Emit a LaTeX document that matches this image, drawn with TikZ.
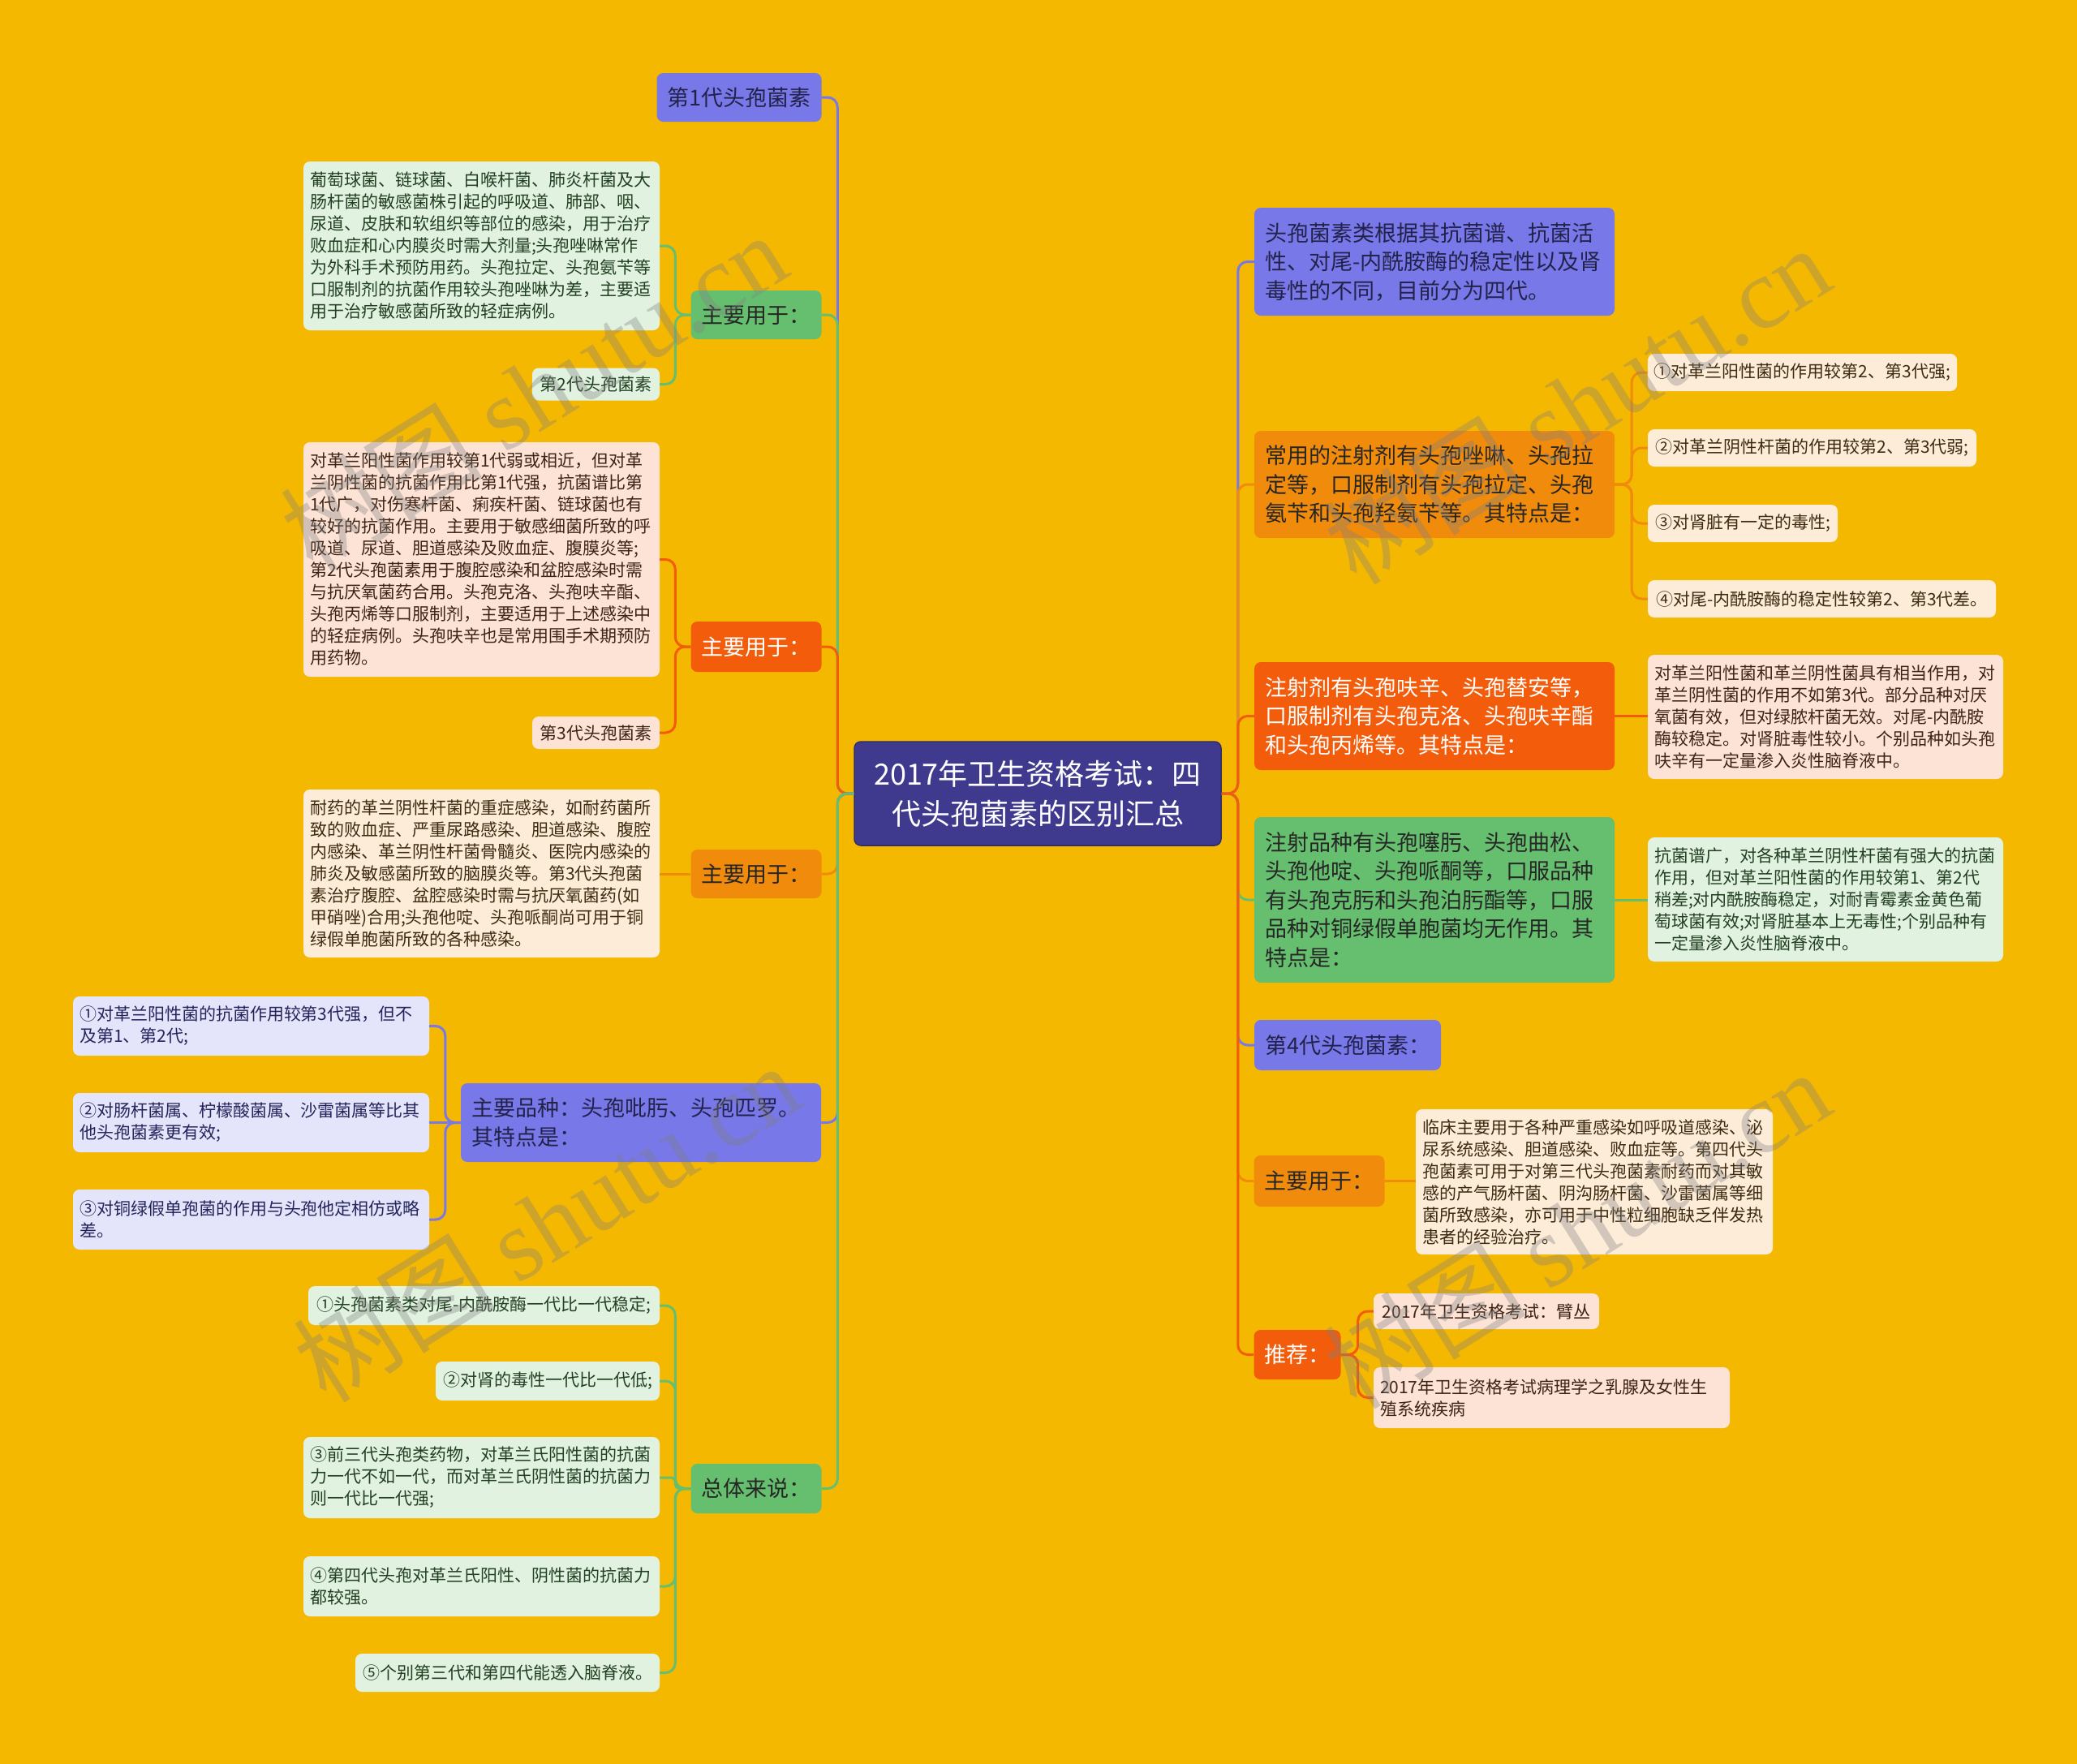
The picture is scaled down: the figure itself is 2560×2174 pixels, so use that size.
\documentclass[tikz,border=0pt]{standalone}
\usepackage{fontspec}
\setmainfont{Noto Sans CJK SC}
\newfontfamily\wmfont{Liberation Serif}
\definecolor{bg}{HTML}{F5B800}
\definecolor{cRoot}{HTML}{3F3A8E}
\definecolor{cPur}{HTML}{7878E8}
\definecolor{cGrn}{HTML}{66BF6E}
\definecolor{cRed}{HTML}{F25C0A}
\definecolor{cOrg}{HTML}{F08B0C}
\definecolor{lGrn}{HTML}{E2F2E0}
\definecolor{lPch}{HTML}{FDE3D5}
\definecolor{lCrm}{HTML}{FDECD8}
\definecolor{lLav}{HTML}{E4E4FA}
\definecolor{tDark}{HTML}{262626}
\definecolor{tPur}{HTML}{22224A}
\definecolor{tG}{HTML}{213F21}
\definecolor{tP}{HTML}{3D2314}
\definecolor{tC}{HTML}{3D2A10}
\definecolor{tL}{HTML}{24245C}
\tikzset{
  one/.style={rounded corners=8pt, inner xsep=13pt, inner ysep=4pt, font=\fontsize{27}{35.5}\selectfont},
  onesingle/.style={one, align=center},
  onemulti/.style={one, align=left, text width=418pt},
  lf/.style={rounded corners=8pt, inner xsep=8pt, inner ysep=4pt, font=\fontsize{21}{27}\selectfont},
  lfsingle/.style={lf, align=center},
  lfmulti/.style={lf, align=left},
  fPur/.style={fill=cPur, text=tPur},
  fGrn/.style={fill=cGrn, text=tDark},
  fRed/.style={fill=cRed, text=white},
  fOrg/.style={fill=cOrg, text=tDark},
  gLeaf/.style={fill=lGrn, text=tG},
  pLeaf/.style={fill=lPch, text=tP},
  cLeaf/.style={fill=lCrm, text=tC},
  vLeaf/.style={fill=lLav, text=tL},
  link/.style={line width=3pt, rounded corners=12pt},
  wmark/.style={rotate=32, text=gray, opacity=0.35, font=\fontsize{125}{130}\selectfont}
}
\begin{document}
\begin{tikzpicture}[x=1pt,y=-1pt]
\useasboundingbox (0,0) rectangle (2560,2174);
\fill[bg] (0,0) rectangle (2560,2174);

% root
\node[fill=cRoot, draw=cRoot!75!black, line width=1.5pt, text=white, rounded corners=8pt, align=center,
  minimum width=452pt, minimum height=128pt, font=\fontsize{36}{49}\selectfont] (root) at (1279,978)
  {2017年卫生资格考试：四\\代头孢菌素的区别汇总};

% ---------- left level 1 ----------
\node[onesingle, fPur, minimum width=202pt, minimum height=60pt] (g1) at (911,120) {第1代头孢菌素};
\node[onesingle, fGrn, minimum width=160pt, minimum height=60pt] (u1) at (932,388) {主要用于：};
\node[onesingle, fRed, minimum width=160pt, minimum height=62pt] (u2) at (932,797) {主要用于：};
\node[onesingle, fOrg, minimum width=160pt, minimum height=60pt] (u3) at (932,1077) {主要用于：};
\node[onemulti, fPur, minimum height=97pt] (p1) at (790,1383.5) {主要品种：头孢吡肟、头孢匹罗。\\其特点是：};
\node[onesingle, fGrn, minimum width=160pt, minimum height=61pt] (t1) at (932,1834.5) {总体来说：};

% ---------- left leaves ----------
\node[lfmulti, gLeaf, text width=423pt, minimum height=208pt] (lg1) at (593.5,303)
 {葡萄球菌、链球菌、白喉杆菌、肺炎杆菌及大\\肠杆菌的敏感菌株引起的呼吸道、肺部、咽、\\尿道、皮肤和软组织等部位的感染，用于治疗\\败血症和心内膜炎时需大剂量;头孢唑啉常作\\为外科手术预防用药。头孢拉定、头孢氨苄等\\口服制剂的抗菌作用较头孢唑啉为差，主要适\\用于治疗敏感菌所致的轻症病例。};
\node[lfsingle, gLeaf, minimum width=157pt, minimum height=40pt] (lg2) at (734.5,473.5) {第2代头孢菌素};

\node[lfmulti, pLeaf, text width=423pt, minimum height=289pt] (lr1) at (593.5,689.5)
 {对革兰阳性菌作用较第1代弱或相近，但对革\\兰阴性菌的抗菌作用比第1代强，抗菌谱比第\\1代广，对伤寒杆菌、痢疾杆菌、链球菌也有\\较好的抗菌作用。主要用于敏感细菌所致的呼\\吸道、尿道、胆道感染及败血症、腹膜炎等;\\第2代头孢菌素用于腹腔感染和盆腔感染时需\\与抗厌氧菌药合用。头孢克洛、头孢呋辛酯、\\头孢丙烯等口服制剂，主要适用于上述感染中\\的轻症病例。头孢呋辛也是常用围手术期预防\\用药物。};
\node[lfsingle, pLeaf, minimum width=157pt, minimum height=40pt] (lr2) at (734.5,903) {第3代头孢菌素};

\node[lfmulti, cLeaf, text width=423pt, minimum height=207pt] (lo1) at (593.5,1076.5)
 {耐药的革兰阴性杆菌的重症感染，如耐药菌所\\致的败血症、严重尿路感染、胆道感染、腹腔\\内感染、革兰阴性杆菌骨髓炎、医院内感染的\\肺炎及敏感菌所致的脑膜炎等。第3代头孢菌\\素治疗腹腔、盆腔感染时需与抗厌氧菌药(如\\甲硝唑)合用;头孢他啶、头孢哌酮尚可用于铜\\绿假单胞菌所致的各种感染。};

\node[lfmulti, vLeaf, text width=423pt, minimum height=73pt] (lp1) at (309.5,1264.5)
 {①对革兰阳性菌的抗菌作用较第3代强，但不\\及第1、第2代;};
\node[lfmulti, vLeaf, text width=423pt, minimum height=73pt] (lp2) at (309.5,1383.5)
 {②对肠杆菌属、柠檬酸菌属、沙雷菌属等比其\\他头孢菌素更有效;};
\node[lfmulti, vLeaf, text width=423pt, minimum height=74pt] (lp3) at (309.5,1503)
 {③对铜绿假单孢菌的作用与头孢他定相仿或略\\差。};

\node[lfsingle, gLeaf, minimum width=433pt, minimum height=48pt] (lt1) at (596.5,1609) {①头孢菌素类对尾-内酰胺酶一代比一代稳定;};
\node[lfsingle, gLeaf, minimum width=276pt, minimum height=48pt] (lt2) at (675,1702) {②对肾的毒性一代比一代低;};
\node[lfmulti, gLeaf, text width=423pt, minimum height=100pt] (lt3) at (593.5,1821)
 {③前三代头孢类药物，对革兰氏阳性菌的抗菌\\力一代不如一代，而对革兰氏阴性菌的抗菌力\\则一代比一代强;};
\node[lfmulti, gLeaf, text width=423pt, minimum height=74pt] (lt4) at (593.5,1955)
 {④第四代头孢对革兰氏阳性、阴性菌的抗菌力\\都较强。};
\node[lfsingle, gLeaf, minimum width=375pt, minimum height=47pt] (lt5) at (625.5,2061.5) {⑤个别第三代和第四代能透入脑脊液。};

% ---------- right level 1 ----------
\node[onemulti, fPur, minimum height=133pt] (r1) at (1768,322.5)
 {头孢菌素类根据其抗菌谱、抗菌活\\性、对尾-内酰胺酶的稳定性以及肾\\毒性的不同，目前分为四代。};
\node[onemulti, fOrg, minimum height=132pt] (r2) at (1768,597)
 {常用的注射剂有头孢唑啉、头孢拉\\定等，口服制剂有头孢拉定、头孢\\氨苄和头孢羟氨苄等。其特点是：};
\node[onemulti, fRed, minimum height=133pt] (r3) at (1768,882.5)
 {注射剂有头孢呋辛、头孢替安等，\\口服制剂有头孢克洛、头孢呋辛酯\\和头孢丙烯等。其特点是：};
\node[onemulti, fGrn, minimum height=204pt] (r4) at (1768,1109)
 {注射品种有头孢噻肟、头孢曲松、\\头孢他啶、头孢哌酮等，口服品种\\有头孢克肟和头孢泊肟酯等，口服\\品种对铜绿假单胞菌均无作用。其\\特点是：};
\node[onesingle, fPur, minimum width=230pt, minimum height=62pt] (r5) at (1661,1288) {第4代头孢菌素：};
\node[onesingle, fOrg, minimum width=160pt, minimum height=63pt] (r6) at (1626,1455.5) {主要用于：};
\node[onesingle, fRed, minimum width=106pt, minimum height=61pt] (r7) at (1599,1669.5) {推荐：};

% ---------- right leaves ----------
\node[lfsingle, cLeaf, minimum width=381pt, minimum height=46pt] (ro1) at (2221.5,459) {①对革兰阳性菌的作用较第2、第3代强;};
\node[lfsingle, cLeaf, minimum width=405pt, minimum height=46pt] (ro2) at (2233.5,552) {②对革兰阴性杆菌的作用较第2、第3代弱;};
\node[lfsingle, cLeaf, minimum width=234pt, minimum height=46pt] (ro3) at (2148,645) {③对肾脏有一定的毒性;};
\node[lfsingle, cLeaf, minimum width=429pt, minimum height=46pt] (ro4) at (2245.5,738) {④对尾-内酰胺酶的稳定性较第2、第3代差。};

\node[lfmulti, pLeaf, text width=422pt, minimum height=153pt] (rr1) at (2250,883.5)
 {对革兰阳性菌和革兰阴性菌具有相当作用，对\\革兰阴性菌的作用不如第3代。部分品种对厌\\氧菌有效，但对绿脓杆菌无效。对尾-内酰胺\\酶较稳定。对肾脏毒性较小。个别品种如头孢\\呋辛有一定量渗入炎性脑脊液中。};
\node[lfmulti, gLeaf, text width=422pt, minimum height=153pt] (rg1) at (2250,1108.5)
 {抗菌谱广，对各种革兰阴性杆菌有强大的抗菌\\作用，但对革兰阳性菌的作用较第1、第2代\\稍差;对内酰胺酶稳定，对耐青霉素金黄色葡\\萄球菌有效;对肾脏基本上无毒性;个别品种有\\一定量渗入炎性脑脊液中。};
\node[lfmulti, cLeaf, text width=424pt, minimum height=179pt] (ro5) at (1965,1456.5)
 {临床主要用于各种严重感染如呼吸道感染、泌\\尿系统感染、胆道感染、败血症等。第四代头\\孢菌素可用于对第三代头孢菌素耐药而对其敏\\感的产气肠杆菌、阴沟肠杆菌、沙雷菌属等细\\菌所致感染，亦可用于中性粒细胞缺乏伴发热\\患者的经验治疗。};
\node[lfsingle, pLeaf, minimum width=278pt, minimum height=44pt] (rr2) at (1832,1616) {2017年卫生资格考试：臂丛};
\node[lfmulti, pLeaf, text width=423pt, minimum height=75pt] (rr3) at (1912.5,1722.5)
 {2017年卫生资格考试病理学之乳腺及女性生\\殖系统疾病};

% ---------- connectors: root to level 1 ----------
\draw[link, cPur] (root.west) -- ++(-20,0) |- (g1.east);
\draw[link, cGrn] (root.west) -- ++(-20,0) |- (u1.east);
\draw[link, cRed] (root.west) -- ++(-20,0) |- (u2.east);
\draw[link, cOrg] (root.west) -- ++(-20,0) |- (u3.east);
\draw[link, cPur] (root.west) -- ++(-20,0) |- (p1.east);
\draw[link, cGrn] (root.west) -- ++(-20,0) |- (t1.east);

\draw[link, cPur] (root.east) -- ++(20,0) |- (r1.west);
\draw[link, cOrg] (root.east) -- ++(20,0) |- (r2.west);
\draw[link, cRed] (root.east) -- ++(20,0) |- (r3.west);
\draw[link, cGrn] (root.east) -- ++(20,0) |- (r4.west);
\draw[link, cPur] (root.east) -- ++(20,0) |- (r5.west);
\draw[link, cOrg] (root.east) -- ++(20,0) |- (r6.west);
\draw[link, cRed] (root.east) -- ++(20,0) |- (r7.west);

% ---------- connectors: level 1 to leaves ----------
\draw[link, cGrn] (u1.west) -- ++(-19,0) |- (lg1.east);
\draw[link, cGrn] (u1.west) -- ++(-19,0) |- (lg2.east);
\draw[link, cRed] (u2.west) -- ++(-19,0) |- (lr1.east);
\draw[link, cRed] (u2.west) -- ++(-19,0) |- (lr2.east);
\draw[link, cOrg] (u3.west) -- (lo1.east |- u3.west);
\draw[link, cPur] (p1.west) -- ++(-19,0) |- (lp1.east);
\draw[link, cPur] (p1.west) -- (lp2.east |- p1.west);
\draw[link, cPur] (p1.west) -- ++(-19,0) |- (lp3.east);
\draw[link, cGrn] (t1.west) -- ++(-19,0) |- (lt1.east);
\draw[link, cGrn] (t1.west) -- ++(-19,0) |- (lt2.east);
\draw[link, cGrn, rounded corners=5pt] (t1.west) -- ++(-19,0) |- (lt3.east);
\draw[link, cGrn] (t1.west) -- ++(-19,0) |- (lt4.east);
\draw[link, cGrn] (t1.west) -- ++(-19,0) |- (lt5.east);

\draw[link, cOrg] (r2.east) -- ++(21,0) |- (ro1.west);
\draw[link, cOrg] (r2.east) -- ++(21,0) |- (ro2.west);
\draw[link, cOrg] (r2.east) -- ++(21,0) |- (ro3.west);
\draw[link, cOrg] (r2.east) -- ++(21,0) |- (ro4.west);
\draw[link, cRed] (r3.east) -- (rr1.west |- r3.east);
\draw[link, cGrn] (r4.east) -- (rg1.west |- r4.east);
\draw[link, cOrg] (r6.east) -- (ro5.west |- r6.east);
\draw[link, cRed] (r7.east) -- ++(21,0) |- (rr2.west);
\draw[link, cRed] (r7.east) -- ++(21,0) |- (rr3.west);

% ---------- watermarks ----------
\node[wmark] (w1) at (657,482) {树图 {\wmfont shutu.cn}};
\node[wmark] (w2) at (1943,498) {树图 {\wmfont shutu.cn}};
\node[wmark] (w3) at (673,1506) {树图 {\wmfont shutu.cn}};
\node[wmark] (w4) at (1943,1514) {树图 {\wmfont shutu.cn}};
\end{tikzpicture}
\end{document}
